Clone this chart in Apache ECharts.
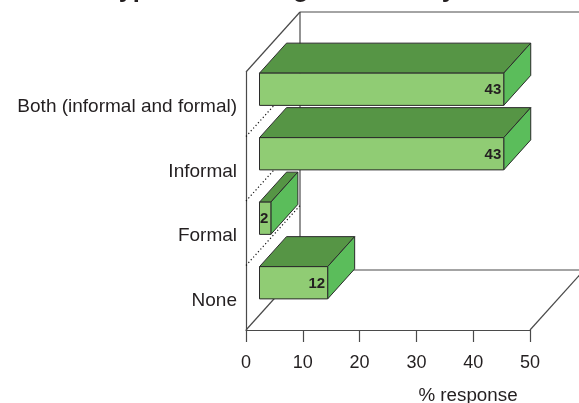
<!DOCTYPE html>
<html>
<head>
<meta charset="utf-8">
<style>html,body{margin:0;padding:0;background:#fff}#chart{width:579px;height:403px}</style>
<script src="https://cdn.jsdelivr.net/npm/echarts@6/dist/echarts.min.js"></script>
</head>
<body>
<div id="chart"></div>
<script>
// Survey responses, listed bottom-to-top along the category axis
const categories = ['None', 'Formal', 'Informal', 'Both (informal and formal)'];
const responses = [12, 2, 43, 43];
const xTicks = [0, 10, 20, 30, 40, 50];
const chartTitle = 'Types of training in the last year';
const xTitle = '% response';

// Oblique projection of the box the bars sit in
const WALL_DX = 54, WALL_DY = 60;
const FONT = '"Liberation Sans", Arial, sans-serif';
const INK = '#231f20', EDGE = '#2b2b2b', FRAME = '#4a4a4a';

const poly = (points, fill, z2) => ({
  type: 'polygon', shape: { points }, z2,
  style: { fill, stroke: EDGE, lineWidth: 1, lineJoin: 'miter' }
});
const line = (a, b, dash) => ({
  type: 'line', silent: true,
  shape: { x1: a[0], y1: a[1], x2: b[0], y2: b[1] },
  style: { stroke: dash ? '#111' : FRAME, lineWidth: 1.2, lineDash: dash ? [1.2, 2.4] : null, fill: null }
});

function renderFrame(params, api) {
  const r = params.coordSys;
  const L = r.x, B = r.y + r.height, T = r.y, R = r.x + r.width;
  const band = api.size([0, 1])[1];
  const kids = [
    line([L, B], [L + WALL_DX, B - WALL_DY]),
    line([L, T], [L + WALL_DX, T - WALL_DY]),
    line([L + WALL_DX, T - WALL_DY], [L + WALL_DX, B - WALL_DY]),
    line([L + WALL_DX, T - WALL_DY], [R + WALL_DX, T - WALL_DY]),
    line([L + WALL_DX, B - WALL_DY], [R + WALL_DX, B - WALL_DY]),
    line([R, B], [R + WALL_DX, B - WALL_DY])
  ];
  // Band separators running across the side wall
  for (let i = 1; i < categories.length; i++) {
    const y = B - i * band;
    kids.push(line([L, y], [L + WALL_DX, y - WALL_DY], true));
  }
  return { type: 'group', children: kids };
}

function renderBar(params, api) {
  const value = api.value(0);
  const origin = api.coord([0, api.value(1)]);
  const end = api.coord([value, api.value(1)]);
  const band = api.size([0, 1])[1];
  const h = band * 0.5;
  const dx = WALL_DX / 2, dy = WALL_DY / 2;
  const ox = WALL_DX / 4, oy = -WALL_DY / 4;
  const x1 = origin[0] + ox, x2 = end[0] + ox;
  const yt = origin[1] + oy - h / 2, yb = yt + h;
  return {
    type: 'group',
    children: [
      poly([[x1, yt], [x1 + dx, yt - dy], [x2 + dx, yt - dy], [x2, yt]], '#569545', 1),
      poly([[x2, yt], [x2 + dx, yt - dy], [x2 + dx, yb - dy], [x2, yb]], '#5bbd5b', 1),
      poly([[x1, yt], [x2, yt], [x2, yb], [x1, yb]], '#90cc74', 2),
      {
        type: 'text', z2: 3,
        style: {
          x: x2 - 2.5, y: (yt + yb) / 2 + 1, text: String(value), align: 'right', verticalAlign: 'middle',
          fill: INK, font: 'bold 15px ' + FONT
        }
      }
    ]
  };
}

const chart = echarts.init(document.getElementById('chart'), null, { renderer: 'canvas' });
chart.setOption({
  animation: false,
  title: {
    text: chartTitle, left: 100, top: -28,
    textStyle: { fontFamily: FONT, fontWeight: 'bold', fontSize: 25.5, color: INK }
  },
  grid: { left: 246, right: 49, top: 72, bottom: 73, outerBoundsMode: 'none' },
  xAxis: {
    type: 'value', min: xTicks[0], max: xTicks[xTicks.length - 1], interval: xTicks[1] - xTicks[0],
    axisLine: { show: true, lineStyle: { color: FRAME, width: 1.2 } },
    axisTick: { show: true, length: 12, lineStyle: { color: FRAME, width: 1.2 } },
    axisLabel: { margin: 24, fontFamily: FONT, fontSize: 18, color: INK, hideOverlap: false },
    splitLine: { show: false },
    name: xTitle, nameLocation: 'middle', nameGap: 56,
    nameTextStyle: { fontFamily: FONT, fontSize: 18.8, color: INK, padding: [0, 0, 0, 160] }
  },
  yAxis: {
    type: 'category', data: categories,
    axisLine: { show: true, lineStyle: { color: FRAME, width: 1.2 } },
    axisTick: { show: false },
    axisLabel: {
      margin: 9, interval: 0,
      formatter: '{cat|{value}}',
      rich: { cat: { fontFamily: FONT, fontSize: 19, color: INK, padding: [6, 0, 0, 0] } }
    }
  },
  series: [
    { type: 'custom', clip: false, silent: true, z: 1, renderItem: renderFrame, data: [[0, 0]], encode: { x: 0, y: 1 } },
    {
      type: 'custom', clip: false, silent: true, z: 2, renderItem: renderBar,
      data: responses.map((v, i) => [v, i]), encode: { x: 0, y: 1 }
    }
  ]
});
</script>
</body>
</html>
